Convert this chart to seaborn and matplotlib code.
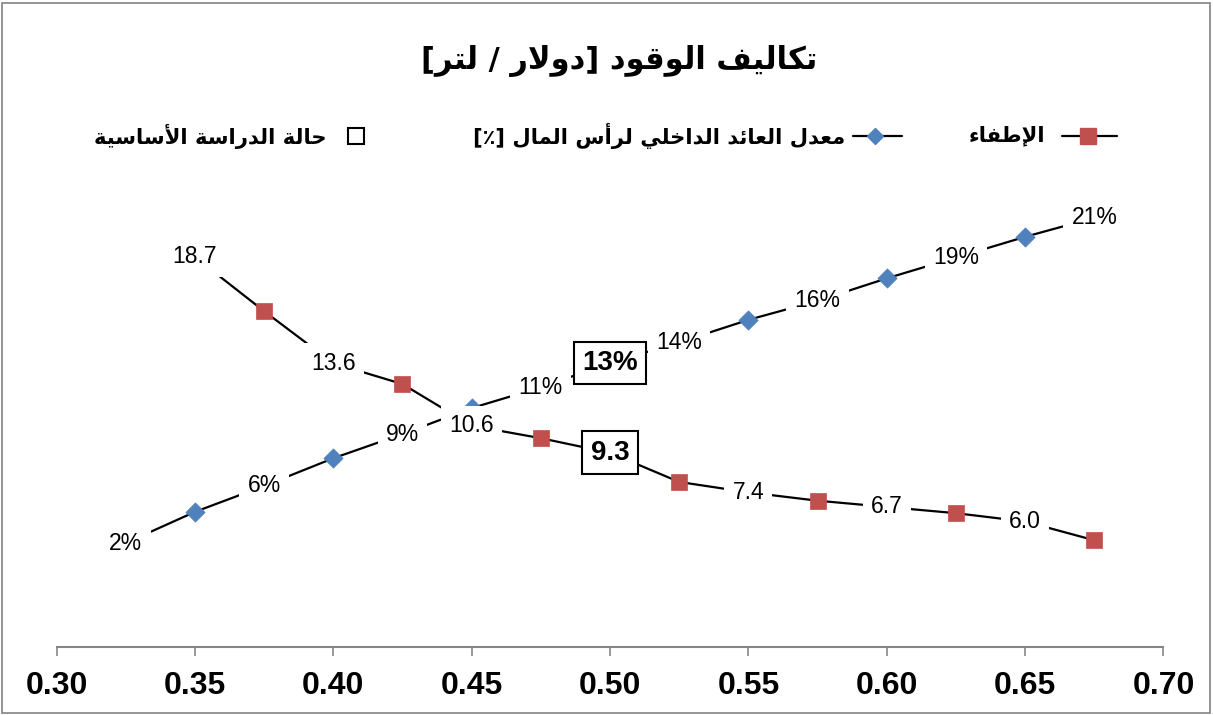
import matplotlib
matplotlib.use("Agg")
import matplotlib.pyplot as plt
from matplotlib.lines import Line2D
from matplotlib.patches import Rectangle
import pandas as pd
import seaborn as sns

# ---- chart text -------------------------------------------------------------
title_text = "تكاليف الوقود [دولار / لتر]"
payback_name = "الإطفاء"
irr_name = "معدل العائد الداخلي لرأس المال [٪]"
base_case_name = "حالة الدراسة الأساسية"

# ---- data ------------------------------------------------------------------
x_ticks = [0.30, 0.35, 0.40, 0.45, 0.50, 0.55, 0.60, 0.65, 0.70]
base_case_cost = 0.50

# payback: labelled points every 0.05, marker points half-way between them
payback_label_cost = [0.35, 0.40, 0.45, 0.50, 0.55, 0.60, 0.65]
payback_label_value = [18.7, 13.6, 10.6, 9.3, 7.4, 6.7, 6.0]
payback_marker_cost = [0.375, 0.425, 0.475, 0.525, 0.575, 0.625, 0.675]
payback_marker_value = [16.1, 12.6, 10.0, 7.9, 7.0, 6.4, 5.1]

# internal rate of return on capital [%]
irr_label_cost = [0.325, 0.375, 0.425, 0.475, 0.50, 0.525, 0.575, 0.625, 0.675]
irr_label_value = [2.4, 5.7, 8.7, 11.4, 12.8, 14.0, 16.4, 18.9, 21.2]
irr_marker_cost = [0.35, 0.40, 0.45, 0.55, 0.60, 0.65]
irr_marker_value = [4.2, 7.3, 10.2, 15.3, 17.7, 20.1]

RED = "#C0504D"
BLUE = "#4F81BD"
GREY = "#868686"

# ---- minimal Arabic shaping (matplotlib has no joining / bidi) ---------------
_DUAL = {0x0626: 0xFE89, 0x0628: 0xFE8F, 0x062A: 0xFE95, 0x062B: 0xFE99,
         0x062C: 0xFE9D, 0x062D: 0xFEA1, 0x062E: 0xFEA5, 0x0633: 0xFEB1,
         0x0634: 0xFEB5, 0x0635: 0xFEB9, 0x0636: 0xFEBD, 0x0637: 0xFEC1,
         0x0638: 0xFEC5, 0x0639: 0xFEC9, 0x063A: 0xFECD, 0x0641: 0xFED1,
         0x0642: 0xFED5, 0x0643: 0xFED9, 0x0644: 0xFEDD, 0x0645: 0xFEE1,
         0x0646: 0xFEE5, 0x0647: 0xFEE9, 0x064A: 0xFEF1}
_RIGHT = {0x0622: 0xFE81, 0x0623: 0xFE83, 0x0624: 0xFE85, 0x0625: 0xFE87,
          0x0627: 0xFE8D, 0x0629: 0xFE93, 0x062F: 0xFEA9, 0x0630: 0xFEAB,
          0x0631: 0xFEAD, 0x0632: 0xFEAF, 0x0648: 0xFEED}
_LAM_ALEF = {0x0622: 0xFEF5, 0x0623: 0xFEF7, 0x0625: 0xFEF9, 0x0627: 0xFEFB}


def rtl(text):
    cps = [ord(c) for c in text]
    units = []
    i = 0
    while i < len(cps):
        c = cps[i]
        if c == 0x0644 and i + 1 < len(cps) and cps[i + 1] in _LAM_ALEF:
            units.append(("R", _LAM_ALEF[cps[i + 1]]))
            i += 2
            continue
        if c in _DUAL:
            units.append(("D", _DUAL[c]))
        elif c in _RIGHT:
            units.append(("R", _RIGHT[c]))
        else:
            units.append(("U", c))
        i += 1
    out = []
    for k, (kind, base) in enumerate(units):
        joins_prev = k > 0 and units[k - 1][0] == "D"
        joins_next = kind == "D" and k + 1 < len(units) and units[k + 1][0] in "DR"
        if kind == "U":
            out.append(chr(base))
        elif kind == "R":
            out.append(chr(base + (1 if joins_prev else 0)))
        else:
            if joins_prev and joins_next:
                off = 3
            elif joins_prev:
                off = 1
            elif joins_next:
                off = 2
            else:
                off = 0
            out.append(chr(base + off))
    visual = "".join(reversed(out))
    return visual.translate(str.maketrans("[]()", "][)("))


# ---- figure ----------------------------------------------------------------
sns.set_style("white")
plt.rcParams["font.family"] = ["Liberation Sans", "DejaVu Sans"]
plt.rcParams["text.color"] = "black"
plt.rcParams["xtick.color"] = "black"
ARABIC = ["DejaVu Sans"]

W, H = 1213, 715
fig = plt.figure(figsize=(W / 100, H / 100), dpi=100)
ax = fig.add_axes([56.5 / W, 1 - 646.5 / H, 1107 / W, 520.75 / H])
ax2 = ax.twinx()

ax.set_xlim(0.30, 0.70)
ax.set_ylim(0, 25)
ax2.set_ylim(-3.58, 26.52)

payback_df = pd.DataFrame({
    "cost": payback_label_cost + payback_marker_cost,
    "value": payback_label_value + payback_marker_value,
}).sort_values("cost")
irr_df = pd.DataFrame({
    "cost": irr_label_cost + irr_marker_cost,
    "value": irr_label_value + irr_marker_value,
}).sort_values("cost")

sns.lineplot(data=payback_df, x="cost", y="value", color="black", lw=1.6,
             estimator=None, sort=True, ax=ax, zorder=2)
sns.scatterplot(x=payback_marker_cost, y=payback_marker_value, marker="s",
                s=117, color=RED, edgecolor=RED, linewidth=0.5, ax=ax, zorder=3)

sns.lineplot(data=irr_df, x="cost", y="value", color="black", lw=1.6,
             estimator=None, sort=True, ax=ax2, zorder=2)
sns.scatterplot(x=irr_marker_cost, y=irr_marker_value, marker="D",
                s=96, color=BLUE, edgecolor=BLUE, linewidth=0.5, ax=ax2, zorder=3)

# data labels sit on the line and mask it with a white box
plain_box = dict(boxstyle="square,pad=0.36", fc="white", ec="none")
base_box = dict(boxstyle="square,pad=0.3", fc="white", ec="black", lw=1.5)


def put_label(x, y, text, transform):
    if abs(x - base_case_cost) < 1e-9:
        ax2.text(x, y, text, transform=transform, ha="center", va="center",
                 fontsize=20, fontweight="bold", color="black", bbox=base_box,
                 zorder=10)
    else:
        ax2.text(x, y, text, transform=transform, ha="center", va="center",
                 fontsize=16.5, color="black", bbox=plain_box, zorder=9)


for x, v in zip(payback_label_cost, payback_label_value):
    put_label(x, v, f"{v:.1f}", ax.transData)
for x, v in zip(irr_label_cost, irr_label_value):
    put_label(x, v, f"{v:.0f}%", ax2.transData)

# axes styling: only the horizontal axis is shown
for a in (ax, ax2):
    for side in ("top", "left", "right"):
        a.spines[side].set_visible(False)
    a.set_xlabel("")
    a.set_ylabel("")
    a.set_yticks([])
    a.grid(False)
ax2.spines["bottom"].set_visible(False)
ax.spines["bottom"].set_color(GREY)
ax.spines["bottom"].set_linewidth(1.5)
ax.set_xticks(x_ticks)
ax.set_xticklabels([f"{t:.2f}" for t in x_ticks], fontsize=23,
                   fontweight="bold", color="black")
ax.tick_params(axis="x", direction="out", length=6.5, width=1.2, color=GREY,
               labelcolor="black", pad=11, bottom=True)
ax2.tick_params(axis="x", bottom=False, labelbottom=False)

# title
fig.text(619.5 / W, 1 - 61 / H, rtl(title_text), ha="center", va="center",
         fontsize=22, fontweight="bold", color="black", family=ARABIC)

# legend, laid out right-to-left: text with its key on the right
leg_y = 1 - 136 / H
leg_font = dict(ha="right", va="center", fontsize=15.2, fontweight="bold",
                color="black", family=ARABIC)
fig.text(1045 / W, leg_y, rtl(payback_name), **leg_font)
fig.add_artist(Line2D([1062 / W, 1117 / W], [leg_y, leg_y], color="black",
                      lw=1.6, transform=fig.transFigure))
fig.add_artist(Line2D([1088 / W], [leg_y], marker="s", markersize=11.5,
                      color=RED, transform=fig.transFigure))

fig.text(845 / W, leg_y, rtl(irr_name), **leg_font)
fig.add_artist(Line2D([853 / W, 902 / W], [leg_y, leg_y], color="black",
                      lw=1.6, transform=fig.transFigure))
fig.add_artist(Line2D([875 / W], [leg_y], marker="D", markersize=8.5,
                      color=BLUE, transform=fig.transFigure))

fig.text(327 / W, leg_y, rtl(base_case_name), **leg_font)
fig.add_artist(Line2D([356 / W], [leg_y], marker="s", markersize=12,
                      markerfacecolor="white", markeredgecolor="black",
                      markeredgewidth=1.5, transform=fig.transFigure))

# chart frame
fig.add_artist(Rectangle((1.5 / W, 2.5 / H), 1208.5 / W, 710 / H, fill=False,
                         ec="#8C8C8C", lw=1.3, transform=fig.transFigure))

fig.savefig("out.png", dpi=100)
